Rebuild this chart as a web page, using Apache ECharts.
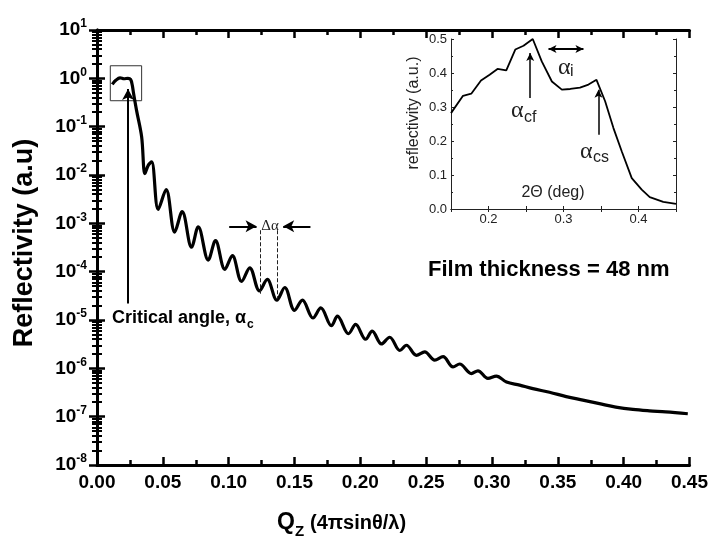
<!DOCTYPE html>
<html>
<head>
<meta charset="utf-8">
<script src="https://cdn.jsdelivr.net/npm/echarts@6/dist/echarts.min.js"></script>
<style>
  html, body { margin: 0; padding: 0; background: #fff; }
  #chart { width: 711px; height: 541px; }
</style>
</head>
<body>
<div id="chart"></div>
<script>
// main curve: Qz vs reflectivity (log scale)
var qz = [0.0116, 0.0145, 0.0175, 0.0205, 0.0235, 0.0255, 0.0268, 0.0276, 0.0300, 0.0339,
  0.0364, 0.0390, 0.0415, 0.0465, 0.0525, 0.0590, 0.0647, 0.0718, 0.0769, 0.0845,
  0.0900, 0.0971, 0.1028, 0.1098, 0.1160, 0.1234, 0.1293, 0.1366, 0.1426, 0.1500,
  0.1560, 0.1640, 0.1700, 0.1780, 0.1826, 0.1910, 0.1964, 0.2040, 0.2090, 0.2160,
  0.2223, 0.2300, 0.2350, 0.2426, 0.2489, 0.2565, 0.2628, 0.2704, 0.2754, 0.2843,
  0.2893, 0.2969, 0.3033, 0.3110, 0.3210, 0.3310, 0.3437, 0.3564, 0.3690, 0.3816,
  0.3940, 0.4070, 0.4196, 0.4320, 0.4487];
var refl = [0.75, 0.92, 1.02, 0.98, 1.0, 0.95, 0.72, 0.52, 0.22, 0.062,
  1.07e-2, 1.6e-2, 1.86e-2, 1.95e-3, 5.0e-3, 6.6e-4, 1.74e-3, 3.2e-4, 8.5e-4, 1.74e-4,
  4.4e-4, 1.12e-4, 2.14e-4, 6.3e-5, 1.2e-4, 4.0e-5, 6.9e-5, 2.57e-5, 4.7e-5, 1.58e-5,
  2.57e-5, 1.1e-5, 1.78e-5, 7.6e-6, 1.2e-5, 5.2e-6, 8.1e-6, 4.0e-6, 5.9e-6, 3.2e-6,
  4.4e-6, 2.34e-6, 3.0e-6, 1.86e-6, 2.19e-6, 1.48e-6, 1.74e-6, 1.07e-6, 1.23e-6, 7.8e-7,
  8.9e-7, 6.2e-7, 6.9e-7, 5.2e-7, 4.5e-7, 3.8e-7, 3.2e-7, 2.6e-7, 2.2e-7, 1.86e-7,
  1.58e-7, 1.41e-7, 1.32e-7, 1.26e-7, 1.15e-7];

// inset: 2theta vs reflectivity (linear)
var twoTheta = [0.150, 0.166, 0.177, 0.190, 0.2015, 0.212, 0.2237, 0.2357, 0.2467, 0.259,
  0.271, 0.2845, 0.2978, 0.309, 0.322, 0.3333, 0.344, 0.3555, 0.3666, 0.3776,
  0.391, 0.4043, 0.415, 0.433, 0.450];
var insetRefl = [0.282, 0.333, 0.339, 0.378, 0.395, 0.412, 0.408, 0.469, 0.480, 0.500,
  0.434, 0.375, 0.351, 0.353, 0.357, 0.366, 0.380, 0.317, 0.238, 0.170,
  0.091, 0.057, 0.035, 0.021, 0.015];

// tick labels
var qTicks = ['0.00', '0.05', '0.10', '0.15', '0.20', '0.25', '0.30', '0.35', '0.40', '0.45'];
var insetXTicks = ['0.2', '0.3', '0.4'];

var SANS = '"Liberation Sans", Arial, sans-serif';
var SERIF = '"Liberation Serif", "Times New Roman", serif';

var chart = echarts.init(document.getElementById('chart'), null, { renderer: 'canvas' });

function mainX(pos, show) {
  return {
    type: 'value', gridIndex: 0, position: pos, min: 0, max: 0.45, interval: 0.05,
    axisLine: { show: true, lineStyle: { color: '#000', width: 3 } },
    axisTick: { show: true, inside: true, length: 8, lineStyle: { color: '#000', width: 2.5 } },
    minorTick: { show: true, splitNumber: 2, length: 5, lineStyle: { color: '#000', width: 2.5 } },
    axisLabel: {
      show: show, margin: 8, color: '#000', fontFamily: SANS, fontWeight: 'bold', fontSize: 19,
      formatter: function (v) { return qTicks[Math.round(v / 0.05)]; }
    },
    splitLine: { show: false }
  };
}
function mainY(pos, show) {
  return {
    type: 'log', logBase: 10, gridIndex: 0, position: pos, min: 1e-8, max: 10,
    axisLine: { show: true, lineStyle: { color: '#000', width: 3 } },
    axisTick: { show: true, inside: true, length: 8, lineStyle: { color: '#000', width: 2.5 } },
    minorTick: { show: true, splitNumber: 9, length: 5, lineStyle: { color: '#000', width: 2 } },
    axisLabel: {
      show: show, margin: 10, color: '#000',
      formatter: function (v) {
        return '{b|10}{e|' + Math.round(Math.log10(v)) + '}';
      },
      rich: {
        b: { fontFamily: SANS, fontWeight: 'bold', fontSize: 19, lineHeight: 24, color: '#000' },
        e: { fontFamily: SANS, fontWeight: 'bold', fontSize: 12, lineHeight: 12, verticalAlign: 'top', color: '#000' }
      }
    },
    splitLine: { show: false }
  };
}
function insetX(pos, show) {
  return {
    type: 'value', gridIndex: 1, position: pos, min: 0.15, max: 0.45, interval: 0.05,
    axisLine: { show: true, lineStyle: { color: '#222', width: 1 } },
    axisTick: { show: true, inside: true, length: 3, lineStyle: { color: '#222', width: 1 } },
    axisLabel: {
      show: show, margin: 4, color: '#222', fontFamily: SANS, fontSize: 13,
      formatter: function (v) {
        var i = Math.round((v - 0.2) / 0.1 * 10);
        return (i % 10 === 0 && i >= 0 && i <= 20) ? insetXTicks[i / 10] : '';
      }
    },
    splitLine: { show: false }
  };
}
function insetY(pos, show) {
  return {
    type: 'value', gridIndex: 1, position: pos, min: 0, max: 0.5, interval: 0.1,
    axisLine: { show: true, lineStyle: { color: '#222', width: 1 } },
    axisTick: { show: true, inside: true, length: 3, lineStyle: { color: '#222', width: 1 } },
    minorTick: { show: true, splitNumber: 2, length: 2, lineStyle: { color: '#222', width: 1 } },
    axisLabel: {
      show: show, margin: 4, color: '#222', fontFamily: SANS, fontSize: 13,
      formatter: function (v) { return v.toFixed(1); }
    },
    splitLine: { show: false }
  };
}

function arrowLine(from, to, style, both) {
  return [
    { coord: from, symbol: both ? 'arrow' : 'none', lineStyle: style },
    { coord: to, symbol: 'arrow', lineStyle: style }
  ];
}
var solid = { color: '#000', width: 2, type: 'solid' };
var thin = { color: '#000', width: 1.5, type: 'solid' };
var dashed = { color: '#222', width: 1, type: 'dashed' };

var option = {
  animation: false,
  backgroundColor: '#fff',
  grid: [
    { left: 97, top: 30, right: 21, bottom: 76 },
    { left: 451, top: 39, width: 225, height: 170 }
  ],
  xAxis: [mainX('bottom', true), mainX('top', false), insetX('bottom', true), insetX('top', false)],
  yAxis: [mainY('left', true), mainY('right', false), insetY('left', true), insetY('right', false)],
  series: [
    {
      type: 'line', xAxisIndex: 0, yAxisIndex: 0,
      data: qz.map(function (q, i) { return [q, refl[i]]; }),
      smooth: 0.35, showSymbol: false, symbol: 'none',
      lineStyle: { color: '#000', width: 3.2 },
      markArea: {
        silent: true,
        itemStyle: { color: 'rgba(0,0,0,0)', borderColor: '#333', borderWidth: 1 },
        data: [[{ coord: [0.0101, 1.82] }, { coord: [0.0339, 0.344] }]]
      },
      markLine: {
        silent: true, symbolSize: [9, 11], label: { show: false },
        data: [
          arrowLine([0.0236, 2.2e-5], [0.0236, 0.6], solid),
          arrowLine([0.1004, 8.7e-4], [0.1212, 8.7e-4], solid),
          arrowLine([0.1621, 8.7e-4], [0.1414, 8.7e-4], solid),
          [{ coord: [0.1237, 7.2e-4], symbol: 'none', lineStyle: dashed }, { coord: [0.1237, 3.5e-5], symbol: 'none', lineStyle: dashed }],
          [{ coord: [0.1371, 7.2e-4], symbol: 'none', lineStyle: dashed }, { coord: [0.1371, 2.8e-5], symbol: 'none', lineStyle: dashed }]
        ]
      }
    },
    {
      type: 'line', xAxisIndex: 2, yAxisIndex: 2,
      data: twoTheta.map(function (t, i) { return [t, insetRefl[i]]; }),
      showSymbol: false, symbol: 'none',
      lineStyle: { color: '#000', width: 1.8 },
      markLine: {
        silent: true, symbolSize: [6, 8], label: { show: false },
        data: [
          arrowLine([0.2556, 0.3265], [0.2556, 0.459], thin),
          arrowLine([0.3466, 0.2186], [0.3466, 0.351], thin),
          arrowLine([0.280, 0.4706], [0.3266, 0.4706], { color: '#000', width: 2, type: 'solid' }, true)
        ]
      }
    }
  ],
  graphic: [
    { type: 'text', x: 25, y: 243, rotation: Math.PI / 2,
      style: { text: 'Reflectivity (a.u)', fontFamily: SANS, fontWeight: 'bold', fontSize: 27, fill: '#000', align: 'center', verticalAlign: 'middle' } },
    { type: 'text', x: 277, y: 523,
      style: { text: 'Q', fontFamily: SANS, fontWeight: 'bold', fontSize: 23, fill: '#000', align: 'left', verticalAlign: 'middle' } },
    { type: 'text', x: 295, y: 532,
      style: { text: 'Z', fontFamily: SANS, fontWeight: 'bold', fontSize: 15, fill: '#000', align: 'left', verticalAlign: 'middle' } },
    { type: 'text', x: 310, y: 523,
      style: { text: '(4πsinθ/λ)', fontFamily: SANS, fontWeight: 'bold', fontSize: 20, fill: '#000', align: 'left', verticalAlign: 'middle' } },
    { type: 'text', x: 112, y: 318,
      style: { text: 'Critical angle, α', fontFamily: SANS, fontWeight: 'bold', fontSize: 18, fill: '#000', align: 'left', verticalAlign: 'middle' } },
    { type: 'text', x: 247, y: 325,
      style: { text: 'c', fontFamily: SANS, fontWeight: 'bold', fontSize: 12, fill: '#000', align: 'left', verticalAlign: 'middle' } },
    { type: 'text', x: 270, y: 226,
      style: { text: 'Δα', fontFamily: SERIF, fontSize: 15, fill: '#222', align: 'center', verticalAlign: 'middle' } },
    { type: 'text', x: 428, y: 270,
      style: { text: 'Film thickness = 48 nm', fontFamily: SANS, fontWeight: 'bold', fontSize: 22, fill: '#000', align: 'left', verticalAlign: 'middle' } },
    // inset labels
    { type: 'text', x: 414, y: 113, rotation: Math.PI / 2,
      style: { text: 'reflectivity (a.u.)', fontFamily: SANS, fontSize: 16, fill: '#222', align: 'center', verticalAlign: 'middle' } },
    { type: 'text', x: 553, y: 193,
      style: { text: '2Θ (deg)', fontFamily: SANS, fontSize: 16, fill: '#222', align: 'center', verticalAlign: 'middle' } },
    { type: 'text', x: 511, y: 111,
      style: { text: 'α', fontFamily: SERIF, fontSize: 24, fill: '#222', align: 'left', verticalAlign: 'middle' } },
    { type: 'text', x: 524, y: 118,
      style: { text: 'cf', fontFamily: SANS, fontSize: 16, fill: '#222', align: 'left', verticalAlign: 'middle' } },
    { type: 'text', x: 580, y: 152,
      style: { text: 'α', fontFamily: SERIF, fontSize: 24, fill: '#222', align: 'left', verticalAlign: 'middle' } },
    { type: 'text', x: 593, y: 158,
      style: { text: 'cs', fontFamily: SANS, fontSize: 16, fill: '#222', align: 'left', verticalAlign: 'middle' } },
    { type: 'text', x: 558, y: 68,
      style: { text: 'α', fontFamily: SERIF, fontSize: 24, fill: '#222', align: 'left', verticalAlign: 'middle' } },
    { type: 'text', x: 570, y: 72,
      style: { text: 'i', fontFamily: SANS, fontSize: 16, fill: '#222', align: 'left', verticalAlign: 'middle' } }
  ]
};

chart.setOption(option);
</script>
</body>
</html>
